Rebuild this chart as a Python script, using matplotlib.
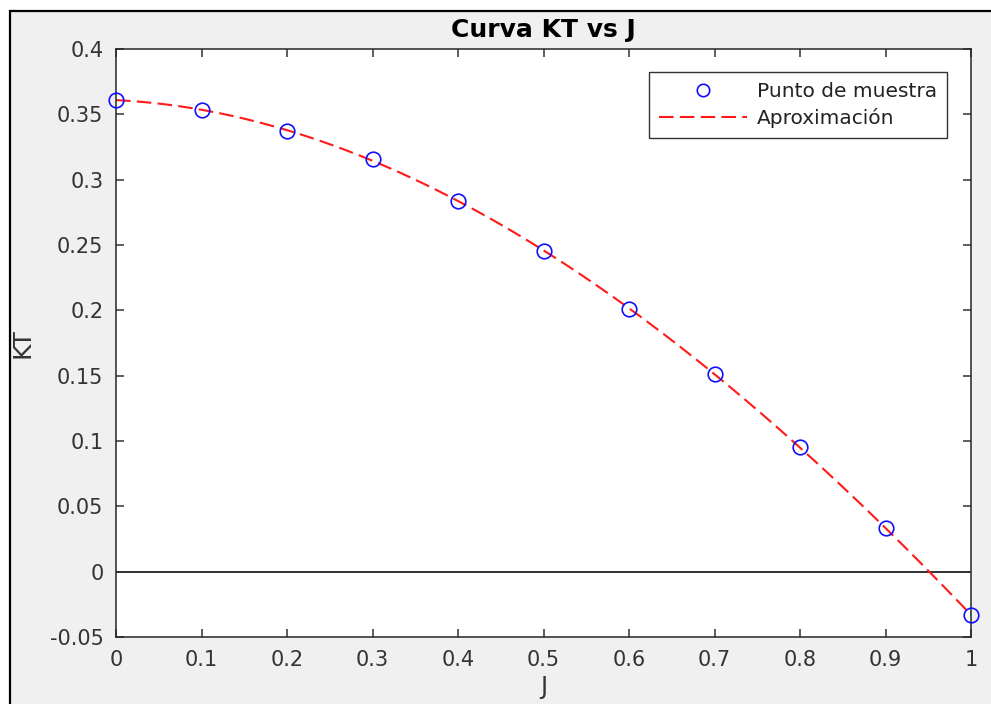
import numpy as np
import matplotlib
matplotlib.use("Agg")
import matplotlib.pyplot as plt
from matplotlib.patches import Rectangle

plt.rcParams['font.family'] = ['DejaVu Sans']

# Data
J = [0.0, 0.1, 0.2, 0.3, 0.4, 0.5, 0.6, 0.7, 0.8, 0.9, 1.0]
KT = [0.361, 0.3533, 0.3372, 0.3158, 0.2837, 0.2454, 0.2010, 0.1513, 0.0954, 0.0334, -0.0332]
xticks = [0, 0.1, 0.2, 0.3, 0.4, 0.5, 0.6, 0.7, 0.8, 0.9, 1]
yticks = [-0.05, 0, 0.05, 0.1, 0.15, 0.2, 0.25, 0.3, 0.35, 0.4]
xtick_labels = ['0', '0.1', '0.2', '0.3', '0.4', '0.5', '0.6', '0.7', '0.8', '0.9', '1']
ytick_labels = ['-0.05', '0', '0.05', '0.1', '0.15', '0.2', '0.25', '0.3', '0.35', '0.4']

# Approximation: polynomial fit of the sample points
coef = np.polyfit(J, KT, 3)
Jf = np.linspace(0, 1, 200)
KTf = np.polyval(coef, Jf)

fig = plt.figure(figsize=(9.91, 7.04), dpi=100)
fig.patch.set_facecolor('white')
fig.patches.append(Rectangle((9.5 / 991, -0.1), 1.2, 1 - 11.5 / 704 + 0.1,
                             transform=fig.transFigure, facecolor='#f0f0f0',
                             edgecolor='black', linewidth=1.6, zorder=-5))

ax = fig.add_axes([116 / 991, 1 - 637 / 704, (971 - 116) / 991, (637 - 49) / 704])
ax.set_zorder(1)
ax.set_facecolor('white')

ax.axhline(0, color='#222222', linewidth=1.3, zorder=1)
ax.plot(J, KT, 'o', markerfacecolor='none', markeredgecolor='#1010ff',
        markersize=10.5, markeredgewidth=1.2, label='Punto de muestra', zorder=3, clip_on=False)
ax.plot(Jf, KTf, color='#ff1a1a', linestyle=(0, (7, 3)), linewidth=1.5,
        label='Aproximación', zorder=2)

ax.set_xlim(0, 1)
ax.set_ylim(-0.05, 0.4)
ax.set_xticks(xticks)
ax.set_xticklabels(xtick_labels)
ax.set_yticks(yticks)
ax.set_yticklabels(ytick_labels)
ax.tick_params(direction='in', top=True, right=True, length=6, width=1.1,
               colors='#333333', labelsize=15)
ax.tick_params(axis='y', pad=9)
ax.tick_params(axis='x', pad=9)
for s in ax.spines.values():
    s.set_color('#262626')
    s.set_linewidth(1.1)

ax.set_title('Curva KT vs J', fontsize=18, fontweight='bold', pad=9)
ax.set_xlabel('J', fontsize=17, color='#333333', labelpad=4)
ax.set_ylabel('KT', fontsize=18, color='#333333', labelpad=11)

leg = ax.legend(loc='upper right', bbox_to_anchor=(0.9716, 0.961), borderaxespad=0,
                fancybox=False, edgecolor='#333333', fontsize=14.5, handlelength=4.4,
                handletextpad=0.45, borderpad=0.5, labelspacing=0.35, framealpha=1,
                markerscale=0.85)
leg.get_frame().set_linewidth(1.0)
for t in leg.get_texts():
    t.set_color('#222222')

fig.savefig('out.png', dpi=100, facecolor=fig.get_facecolor())
